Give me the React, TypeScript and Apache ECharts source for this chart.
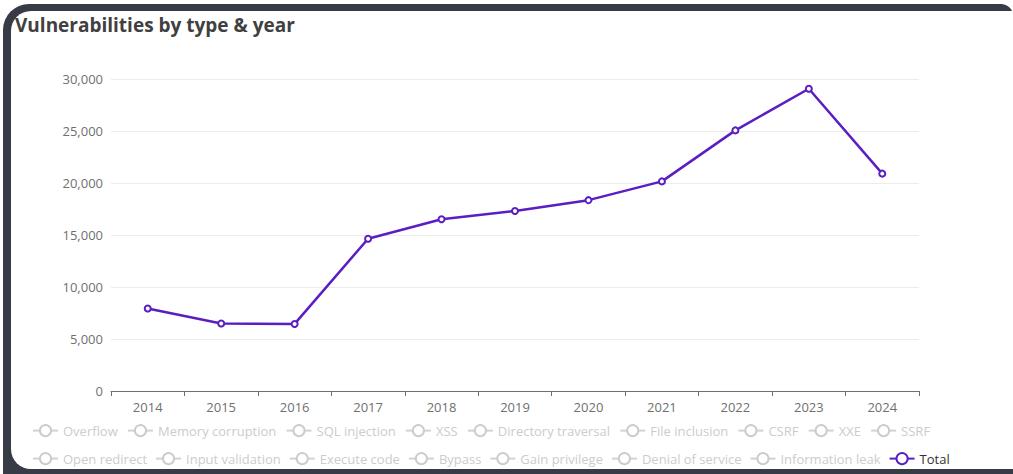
import React, { useEffect, useRef } from "react";
import * as echarts from "echarts";

const years = ["2014", "2015", "2016", "2017", "2018", "2019", "2020", "2021", "2022", "2023", "2024"];
const totalValues = [7928, 6494, 6449, 14643, 16509, 17305, 18350, 20155, 25059, 29065, 20900];
const hiddenTypesRow1 = [
  "Overflow",
  "Memory corruption",
  "SQL injection",
  "XSS",
  "Directory traversal",
  "File inclusion",
  "CSRF",
  "XXE",
  "SSRF",
];
const hiddenTypesRow2 = [
  "Open redirect",
  "Input validation",
  "Execute code",
  "Bypass",
  "Gain privilege",
  "Denial of service",
  "Information leak",
];
const hiddenTypes = [...hiddenTypesRow1, ...hiddenTypesRow2];
const yTicks = [0, 5000, 10000, 15000, 20000, 25000, 30000];
const titleText = "Vulnerabilities by type & year";

const FONT = "'Open Sans', 'Noto Sans', sans-serif";

export default function App() {
  const ref = useRef<HTMLDivElement>(null);

  useEffect(() => {
    document.body.style.margin = "0";
    if (!ref.current) return;
    const chart = echarts.init(ref.current, undefined, { renderer: "svg" });
    const selected: Record<string, boolean> = {};
    hiddenTypes.forEach((n) => (selected[n] = false));
    selected["Total"] = true;

    const series: any[] = hiddenTypes.map((name) => ({
      name,
      type: "line",
      data: [],
      symbol: "emptyCircle",
    }));
    series.push({
      name: "Total",
      type: "line",
      data: totalValues,
      symbol: "emptyCircle",
      symbolSize: 6,
      lineStyle: { color: "#5a1ec2", width: 2.5 },
      itemStyle: { color: "#5a1ec2", borderWidth: 2 },
    });

    const legendBase = {
      selected,
      left: 27,
      right: 0,
      itemWidth: 25,
      itemHeight: 14,
      inactiveColor: "#cccccc",
      textStyle: { fontFamily: FONT, fontSize: 13, color: "#333" },
    };

    chart.setOption({
      animation: false,
      color: ["#5a1ec2"],
      title: {
        text: titleText,
        left: 10,
        top: 10,
        textStyle: { fontFamily: FONT, fontSize: 19, fontWeight: "bold", color: "#404040" },
      },
      grid: { left: 111, right: 94, top: 79, bottom: 83 },
      xAxis: {
        type: "category",
        data: years,
        boundaryGap: true,
        axisLine: { lineStyle: { color: "#6e7079" } },
        axisTick: { show: true, length: 5, lineStyle: { color: "#6e7079" } },
        axisLabel: { color: "#707070", fontFamily: FONT, fontSize: 13, margin: 9 },
      },
      yAxis: {
        type: "value",
        min: yTicks[0],
        max: yTicks[yTicks.length - 1],
        interval: 5000,
        axisLabel: {
          color: "#707070",
          fontFamily: FONT,
          fontSize: 13,
          margin: 8,
          formatter: (v: number) => v.toLocaleString("en-US"),
        },
        splitLine: { lineStyle: { color: "#ececec" } },
      },
      legend: [
        { ...legendBase, data: hiddenTypesRow1, top: 419, itemGap: 9.2 },
        { ...legendBase, data: [...hiddenTypesRow2, "Total"], top: 447, itemGap: 8 },
      ],
      series,
    });
    return () => chart.dispose();
  }, []);

  return (
    <div style={{ position: "fixed", left: 0, top: 0, width: 1013, height: 474, background: "#fff", overflow: "hidden" }}>
      <div
        style={{
          position: "absolute",
          left: 3,
          top: 4,
          width: 1010,
          height: 480,
          background: "#363b45",
          borderTopLeftRadius: 26,
          borderTopRightRadius: 12,
        }}
      />
      <div
        style={{
          position: "absolute",
          left: 11,
          top: 11,
          width: 1040,
          height: 458,
          background: "#fff",
          borderTopLeftRadius: 20,
          borderBottomLeftRadius: 20,
        }}
      />
      <div ref={ref} style={{ position: "absolute", left: 0, top: 0, width: 1013, height: 474 }} />
    </div>
  );
}
